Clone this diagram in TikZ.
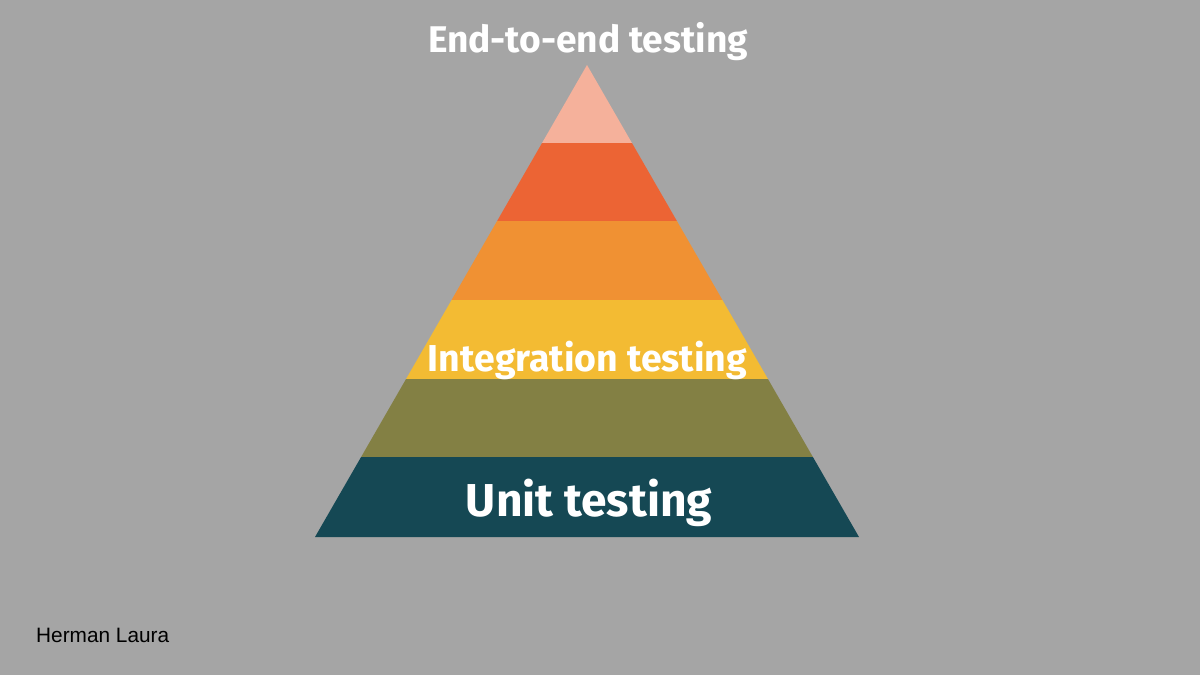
\documentclass[tikz,border=0pt]{standalone}
\usepackage{fontspec}
\setmainfont{Fira Sans}
\newfontfamily\authorfont{Liberation Sans}
\usetikzlibrary{calc}
\definecolor{bgc}{HTML}{A5A5A5}
\definecolor{lvA}{HTML}{F5B19B}
\definecolor{lvB}{HTML}{EC6434}
\definecolor{lvC}{HTML}{F09133}
\definecolor{lvD}{HTML}{F3BB33}
\definecolor{lvE}{HTML}{838044}
\definecolor{lvF}{HTML}{154854}
\tikzset{
  band/.style={draw=none},
  lbl/.style={text=white, font=\bfseries, inner sep=0pt, anchor=base},
}
\begin{document}
\begin{tikzpicture}[x=1pt,y=-1pt]
\fill[bgc] (0,0) rectangle (1200,675);
\useasboundingbox (0,0) rectangle (1200,675);
\coordinate (apex) at (587,65);
\coordinate (bl) at (315,537);
\coordinate (br) at (859,537);
\foreach \n/\t in {1/0.1653,2/0.3305,3/0.4979,4/0.6653,5/0.8305,6/1}{
  \coordinate (L\n) at ($(apex)!\t!(bl)$);
  \coordinate (R\n) at ($(apex)!\t!(br)$);
}
\fill[band,lvA] (apex) -- (R1) -- (L1) -- cycle;
\fill[band,lvB] (L1) -- (R1) -- (R2) -- (L2) -- cycle;
\fill[band,lvC] (L2) -- (R2) -- (R3) -- (L3) -- cycle;
\fill[band,lvD] (L3) -- (R3) -- (R4) -- (L4) -- cycle;
\fill[band,lvE] (L4) -- (R4) -- (R5) -- (L5) -- cycle;
\fill[band,lvF] (L5) -- (R5) -- (R6) -- (L6) -- cycle;
\node[lbl] (e2e) at (588,52) {\resizebox{320pt}{!}{End-to-end testing}};
\node[lbl] (integ) at (587.5,371) {\resizebox{319pt}{!}{Integration testing}};
\node[lbl] (unit) at (589,516) {\resizebox{246pt}{!}{Unit testing}};
\node[inner sep=0pt, anchor=base west, text=black] (author) at (36,642) {\authorfont\resizebox{133pt}{!}{Herman Laura}};
\end{tikzpicture}
\end{document}
